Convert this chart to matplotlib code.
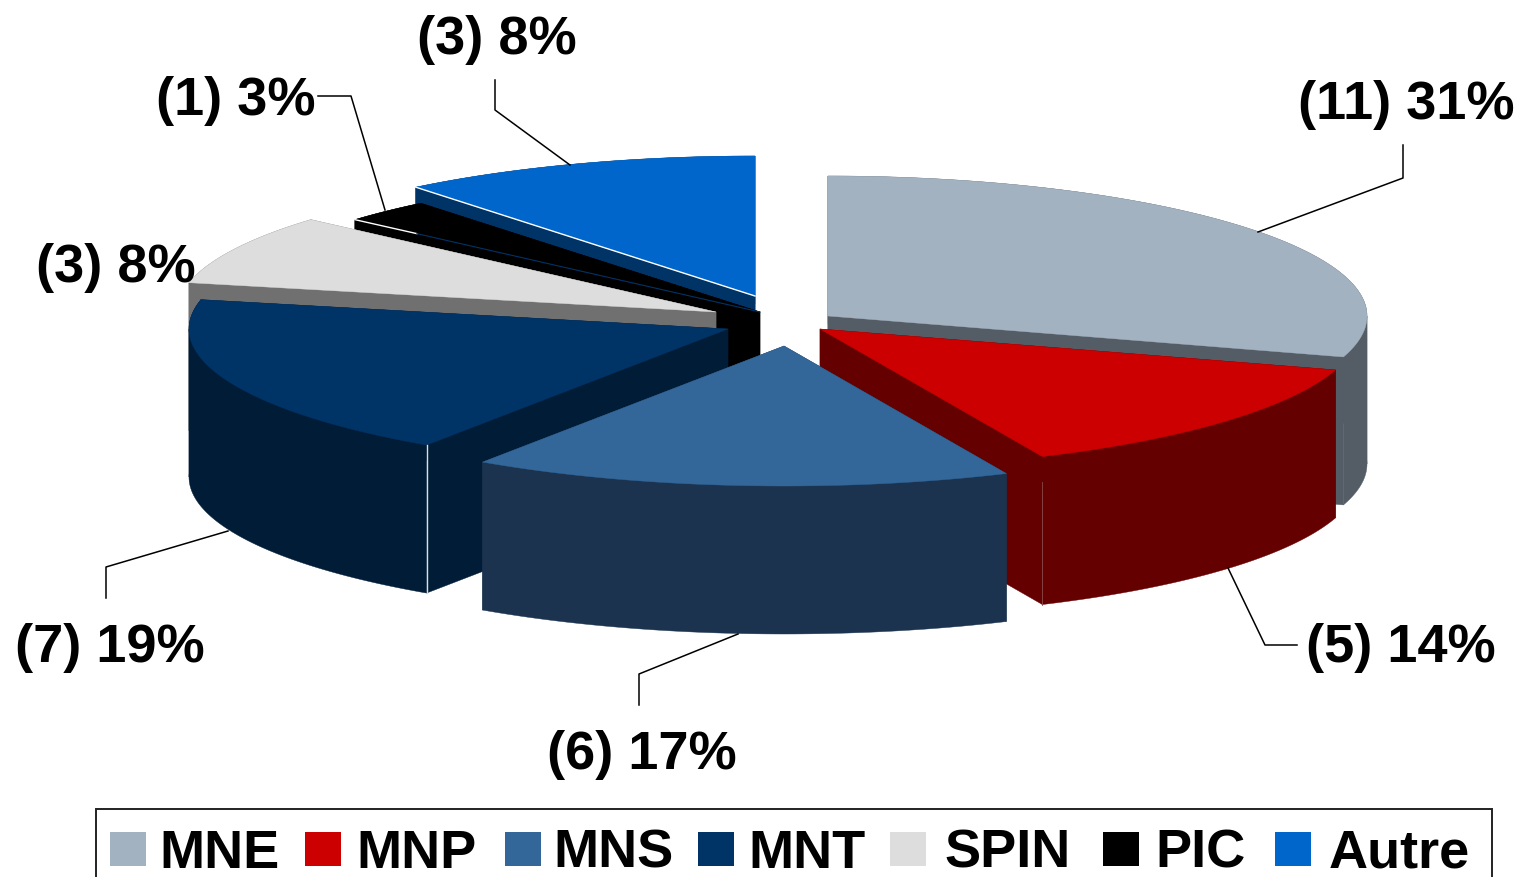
import numpy as np
import matplotlib
matplotlib.use('Agg')
import matplotlib.pyplot as plt
from matplotlib.patches import Polygon, Rectangle

names = ['MNE', 'MNP', 'MNS', 'MNT', 'SPIN', 'PIC', 'Autre']
counts = [11, 5, 6, 7, 3, 1, 3]
percents = [31, 14, 17, 19, 8, 3, 8]

top_colors = ['#A3B2C1', '#CC0000', '#336699', '#003366', '#DDDDDD', '#000000', '#0066CC']
side_colors = ['#545C66', '#640000', '#1B334E', '#001C36', '#707070', '#000000', '#003366']

# wedge tip of each exploded slice, in figure pixels
tips_x = [828, 820, 784, 728, 716, 760, 755]
tips_y = [316, 329, 346, 329, 312, 312, 296]

RX, RY, DEPTH = 539, 140, 148
W, H = 1523, 877

# back to front
draw_order = [6, 5, 4, 0, 3, 1, 2]

# legend layout: swatch left edge, text left edge
swatch_x = [110, 305, 505, 698, 890, 1103, 1275]
text_x = [159, 356, 553, 748, 945, 1155, 1329]

# label layout: text centre and leader polyline per slice
label_xy = [(1406, 105), (1401, 648), (642, 755), (110, 648), (116, 268), (236, 101), (497, 40)]
leaders = [
    [(1258, 232), (1403, 178), (1403, 145)],
    [(1228, 568), (1265, 645), (1297, 645)],
    [(738, 634), (639, 674), (639, 705)],
    [(228, 531), (106, 567), (106, 598)],
    None,
    [(385, 210), (351, 96), (318, 96)],
    [(570, 165), (495, 110), (495, 80)],
]

plt.rcParams['font.family'] = ['Liberation Sans', 'DejaVu Sans']

fig = plt.figure(figsize=(W / 100, H / 100), dpi=100)
ax = fig.add_axes([0, 0, 1, 1])
ax.set_xlim(0, W)
ax.set_ylim(H, 0)
ax.axis('off')


def view_angle(deg):
    # the tilted view squeezes the sweep up to 330 and opens the last sector
    return np.interp(deg, [0, 330, 360], [0, 321, 360])


def rim(cx, cy, a0, a1):
    t = np.radians(np.linspace(a0, a1, 200))
    return np.column_stack([cx + RX * np.sin(t), cy - RY * np.cos(t)])


def add_poly(pts, color):
    ax.add_patch(Polygon(pts, closed=True, facecolor=color, edgecolor=color, lw=0.3))


edges = np.cumsum([0] + counts) / sum(counts) * 360

for i in draw_order:
    cx, cy = tips_x[i], tips_y[i]
    a0, a1 = view_angle(edges[i]), view_angle(edges[i + 1])
    arc = rim(cx, cy, a0, a1)
    drop = np.array([0, DEPTH])
    tip = np.array([cx, cy])

    # two cut faces, outer wall, then the top
    for end in (arc[0], arc[-1]):
        add_poly([tip, end, end + drop, tip + drop], side_colors[i])
    # wall is split at the silhouette points so each strip stays simple
    stops = [a0] + [a for a in (90, 270) if a0 < a < a1] + [a1]
    for s0, s1 in zip(stops[:-1], stops[1:]):
        part = rim(cx, cy, s0, s1)
        add_poly(np.vstack([part, (part + drop)[::-1]]), side_colors[i])
    add_poly(np.vstack([tip, arc]), top_colors[i])

    if names[i] == 'Autre':
        ax.plot([arc[0][0], cx], [arc[0][1], cy], color='white', lw=1)
    if names[i] == 'PIC':
        ax.plot([arc[0][0], arc[0][0] + 62], [arc[0][1], arc[0][1] + 14], color='white', lw=1)
        ax.plot([arc[0][0] + 62, cx], [arc[0][1] + 14, cy], color='#003366', lw=0.8)
    if names[i] == 'MNT':
        ax.plot([arc[0][0]] * 2, [arc[0][1], arc[0][1] + DEPTH], color='#DDDDDD', lw=1)
    if names[i] == 'MNP':
        ax.plot([arc[-1][0]] * 2, [arc[-1][1] + 25, arc[-1][1] + DEPTH], color='#8A4A4A', lw=0.6)

for i, path in enumerate(leaders):
    if path is not None:
        xs, ys = zip(*path)
        ax.plot(xs, ys, color='black', lw=1.1)
    ax.text(label_xy[i][0], label_xy[i][1], '(%d) %d%%' % (counts[i], percents[i]),
            ha='center', va='center', fontsize=39, fontweight='bold', color='black')

# legend box runs off the bottom edge
ax.add_patch(Rectangle((96, 809), 1396, 90, facecolor='white', edgecolor='#222222', lw=1.4))
for i, name in enumerate(names):
    ax.add_patch(Rectangle((swatch_x[i], 832), 36, 34, facecolor=top_colors[i], edgecolor='none'))
    ax.text(text_x[i], 854, name, ha='left', va='center', fontsize=39, fontweight='bold', color='black')

fig.savefig('out.png', dpi=100, facecolor='white')
